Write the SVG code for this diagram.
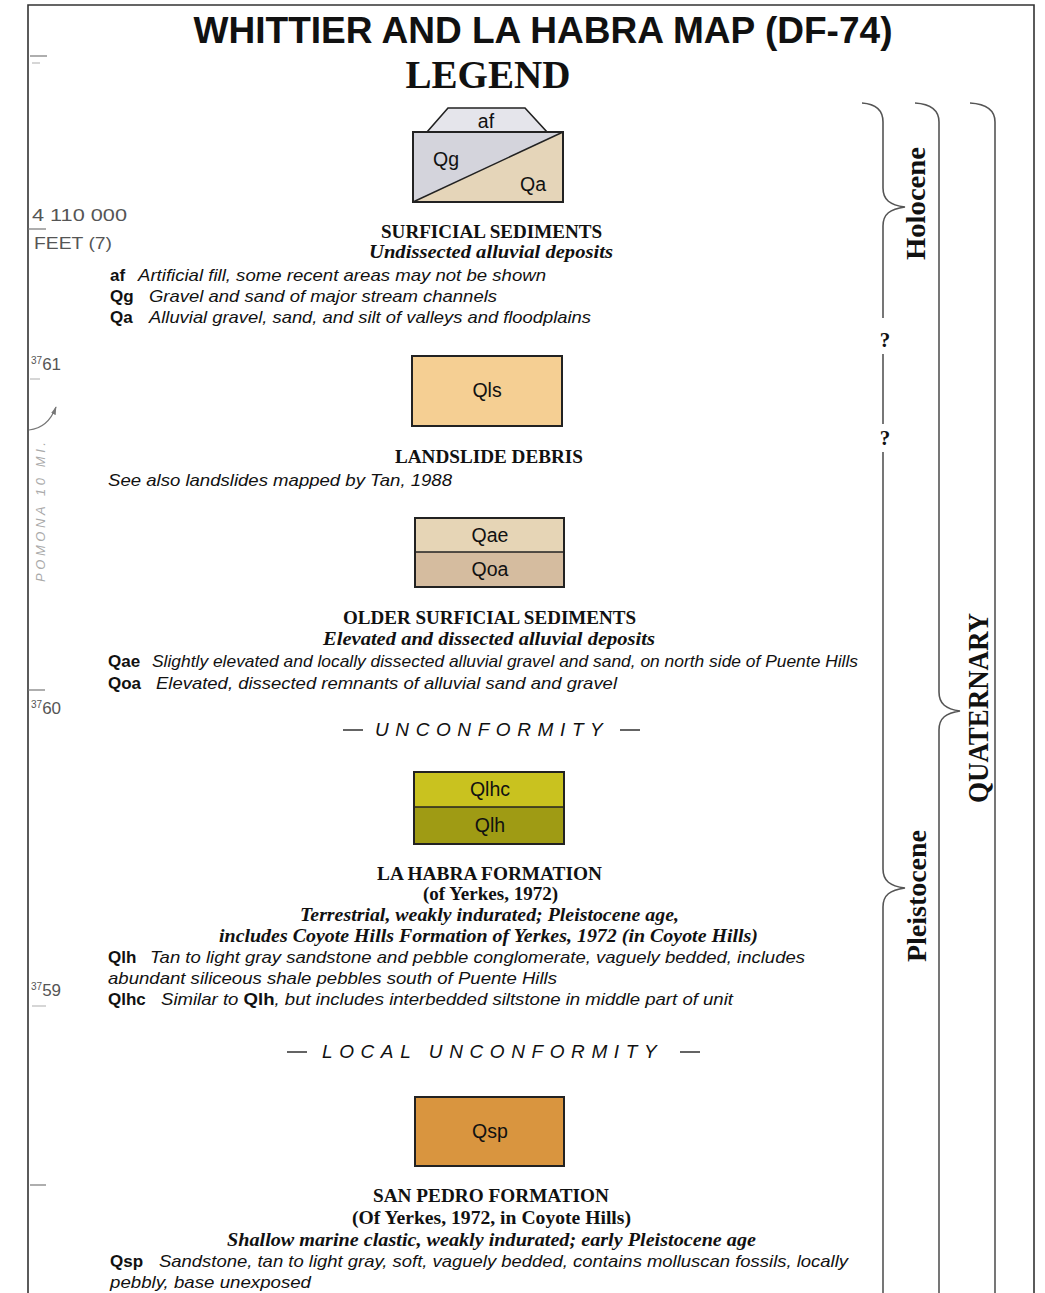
<svg xmlns="http://www.w3.org/2000/svg" width="1045" height="1293" viewBox="0 0 1045 1293">
<style>
.ttl{font-family:"Liberation Sans",Arial,sans-serif;font-weight:bold;fill:#111}
.leg{font-family:"Liberation Serif","Times New Roman",serif;font-weight:bold;fill:#111}
.h{font-family:"Liberation Serif","Times New Roman",serif;font-weight:bold;font-size:19px;fill:#111;text-anchor:middle}
.hi{font-family:"Liberation Serif","Times New Roman",serif;font-weight:bold;font-style:italic;font-size:19px;fill:#111;text-anchor:middle}
.c{font-family:"Liberation Sans",Arial,sans-serif;font-weight:bold;font-size:17px;fill:#111}
.d{font-family:"Liberation Sans",Arial,sans-serif;font-style:italic;font-size:17px;fill:#111}
.lbl{font-family:"Liberation Sans",Arial,sans-serif;font-size:19.5px;fill:#111;text-anchor:middle}
.unc{font-family:"Liberation Sans",Arial,sans-serif;font-style:italic;font-size:19px;fill:#111;letter-spacing:6.6px}
.dash{stroke:#222;stroke-width:1.4}
.box{stroke:#222;stroke-width:2}
.mg{font-family:"Liberation Sans",Arial,sans-serif;font-size:16px;fill:#555}
.ep{font-family:"Liberation Serif","Times New Roman",serif;font-weight:bold;fill:#111;text-anchor:middle}
.br{fill:none;stroke:#555;stroke-width:1.6}
.tick{stroke:#777;stroke-width:1.2}
</style>
<defs>
<marker id="ah" viewBox="0 0 10 10" refX="9" refY="5" markerWidth="7" markerHeight="7" orient="auto">
<path d="M0,2 L10,5 L0,8 Z" fill="#777"/>
</marker>
</defs>
<rect x="0" y="0" width="1045" height="1293" fill="#ffffff"/>
<g id="frame">
<path d="M28 1293 L28 5 L1034 5 L1034 1293" fill="none" stroke="#333" stroke-width="1.6"/>
</g>
<g id="margin">
<line class="tick" x1="30" y1="56" x2="47" y2="56"/>
<line class="tick" x1="32" y1="63" x2="40" y2="63" stroke-opacity="0.5"/>
<text class="mg" x="32" y="221" textLength="95" lengthAdjust="spacingAndGlyphs">4 110 000</text>
<line class="tick" x1="28" y1="229" x2="46" y2="229"/>
<text class="mg" x="34" y="249" textLength="78" lengthAdjust="spacingAndGlyphs">FEET (7)</text>
<text class="mg" x="31" y="370"><tspan font-size="10" dy="-6">37</tspan><tspan font-size="17" dy="6">61</tspan></text>
<line class="tick" x1="30" y1="379" x2="40" y2="379" stroke-opacity="0.5"/>
<path d="M29 430 Q48 428 56 407" fill="none" stroke="#777" stroke-width="1.2" marker-end="url(#ah)"/>
<text transform="translate(45,512) rotate(-90)" font-family="Liberation Sans,Arial,sans-serif" font-style="italic" font-size="13" fill="#aaa" text-anchor="middle" textLength="140" lengthAdjust="spacing">POMONA 10 MI.</text>
<line class="tick" x1="28" y1="690" x2="45" y2="690"/>
<text class="mg" x="31" y="714"><tspan font-size="10" dy="-6">37</tspan><tspan font-size="17" dy="6">60</tspan></text>
<text class="mg" x="31" y="996"><tspan font-size="10" dy="-6">37</tspan><tspan font-size="17" dy="6">59</tspan></text>
<line class="tick" x1="32" y1="1006" x2="46" y2="1006" stroke-opacity="0.5"/>
<line class="tick" x1="30" y1="1185" x2="46" y2="1185"/>
</g>
<g id="title">
<text class="ttl" x="543" y="43" font-size="37" text-anchor="middle" textLength="699" lengthAdjust="spacingAndGlyphs">WHITTIER AND LA HABRA MAP (DF-74)</text>
<text class="leg" x="488" y="88" font-size="39" text-anchor="middle" textLength="165" lengthAdjust="spacingAndGlyphs">LEGEND</text>
</g>
<g id="surficial">
<polygon points="427,132 448,108 525,108 547,132" fill="#e5e5eb" stroke="#222" stroke-width="1.6"/>
<rect x="413" y="132" width="150" height="70" fill="#d4d4dc"/>
<polygon points="413,202 563,132 563,202" fill="#e5d5b9"/>
<line x1="413" y1="202" x2="563" y2="132" stroke="#222" stroke-width="1.5"/>
<rect class="box" x="413" y="132" width="150" height="70" fill="none"/>
<text class="lbl" x="486" y="128">af</text>
<text class="lbl" x="446" y="166">Qg</text>
<text class="lbl" x="533" y="191">Qa</text>
<text class="h" x="491.5" y="238" textLength="221" lengthAdjust="spacingAndGlyphs">SURFICIAL SEDIMENTS</text>
<text class="hi" x="491" y="258" textLength="244" lengthAdjust="spacingAndGlyphs">Undissected alluvial deposits</text>
<text class="c" x="110" y="281">af</text>
<text class="d" x="138" y="281" textLength="408" lengthAdjust="spacingAndGlyphs">Artificial fill, some recent areas may not be shown</text>
<text class="c" x="110" y="302">Qg</text>
<text class="d" x="149" y="302" textLength="348" lengthAdjust="spacingAndGlyphs">Gravel and sand of major stream channels</text>
<text class="c" x="110" y="323">Qa</text>
<text class="d" x="149" y="323" textLength="442" lengthAdjust="spacingAndGlyphs">Alluvial gravel, sand, and silt of valleys and floodplains</text>
</g>
<g id="landslide">
<rect class="box" x="412" y="356" width="150" height="70" fill="#f5cf93"/>
<text class="lbl" x="487" y="397">Qls</text>
<text class="h" x="489" y="463" textLength="188" lengthAdjust="spacingAndGlyphs">LANDSLIDE DEBRIS</text>
<text class="d" x="108" y="486" textLength="344" lengthAdjust="spacingAndGlyphs">See also landslides mapped by Tan, 1988</text>
</g>
<g id="older">
<rect x="415" y="518" width="149" height="34" fill="#e6d5b6"/>
<rect x="415" y="552" width="149" height="35" fill="#d5bc9f"/>
<line x1="415" y1="552" x2="564" y2="552" stroke="#222" stroke-width="1.6"/>
<rect class="box" x="415" y="518" width="149" height="69" fill="none"/>
<text class="lbl" x="490" y="542">Qae</text>
<text class="lbl" x="490" y="576">Qoa</text>
<text class="h" x="489.5" y="624" textLength="293" lengthAdjust="spacingAndGlyphs">OLDER SURFICIAL SEDIMENTS</text>
<text class="hi" x="489" y="645" textLength="332" lengthAdjust="spacingAndGlyphs">Elevated and dissected alluvial deposits</text>
<text class="c" x="108" y="667">Qae</text>
<text class="d" x="152" y="667" textLength="706" lengthAdjust="spacingAndGlyphs">Slightly elevated and locally dissected alluvial gravel and sand, on north side of Puente Hills</text>
<text class="c" x="108" y="689">Qoa</text>
<text class="d" x="156" y="689" textLength="461" lengthAdjust="spacingAndGlyphs">Elevated, dissected remnants of alluvial sand and gravel</text>
</g>
<g id="unconformity">
<line class="dash" x1="343" y1="730" x2="363" y2="730"/>
<text class="unc" x="375" y="736">UNCONFORMITY</text>
<line class="dash" x1="620" y1="730" x2="640" y2="730"/>
</g>
<g id="lahabra">
<rect x="414" y="772" width="150" height="35" fill="#c9c21f"/>
<rect x="414" y="807" width="150" height="37" fill="#9f9b14"/>
<line x1="414" y1="807" x2="564" y2="807" stroke="#222" stroke-width="1.6"/>
<rect class="box" x="414" y="772" width="150" height="72" fill="none"/>
<text class="lbl" x="490" y="796">Qlhc</text>
<text class="lbl" x="490" y="832">Qlh</text>
<text class="h" x="489.5" y="880" textLength="225" lengthAdjust="spacingAndGlyphs">LA HABRA FORMATION</text>
<text class="h" x="490.5" y="900" textLength="135" lengthAdjust="spacingAndGlyphs">(of Yerkes, 1972)</text>
<text class="hi" x="489.5" y="921" textLength="379" lengthAdjust="spacingAndGlyphs">Terrestrial, weakly indurated; Pleistocene age,</text>
<text class="hi" x="488.5" y="942" textLength="539" lengthAdjust="spacingAndGlyphs">includes Coyote Hills Formation of Yerkes, 1972 (in Coyote Hills)</text>
<text class="c" x="108" y="963">Qlh</text>
<text class="d" x="150" y="963" textLength="655" lengthAdjust="spacingAndGlyphs">Tan to light gray sandstone and pebble conglomerate, vaguely bedded, includes</text>
<text class="d" x="108" y="984" textLength="449" lengthAdjust="spacingAndGlyphs">abundant siliceous shale pebbles south of Puente Hills</text>
<text class="c" x="108" y="1005">Qlhc</text>
<text class="d" x="161" y="1005" textLength="572" lengthAdjust="spacingAndGlyphs">Similar to <tspan font-weight="bold" font-style="normal">Qlh</tspan>, but includes interbedded siltstone in middle part of unit</text>
</g>
<g id="local-unconformity">
<line class="dash" x1="287" y1="1052" x2="307" y2="1052"/>
<text class="unc" x="322" y="1058">LOCAL UNCONFORMITY</text>
<line class="dash" x1="680" y1="1052" x2="700" y2="1052"/>
</g>
<g id="sanpedro">
<rect class="box" x="415" y="1097" width="149" height="69" fill="#d9953f"/>
<text class="lbl" x="490" y="1138">Qsp</text>
<text class="h" x="491" y="1202" textLength="236" lengthAdjust="spacingAndGlyphs">SAN PEDRO FORMATION</text>
<text class="h" x="491.5" y="1224" textLength="279" lengthAdjust="spacingAndGlyphs">(Of Yerkes, 1972, in Coyote Hills)</text>
<text class="hi" x="491.5" y="1246" textLength="529" lengthAdjust="spacingAndGlyphs">Shallow marine clastic, weakly indurated; early Pleistocene age</text>
<text class="c" x="110" y="1267">Qsp</text>
<text class="d" x="159" y="1267" textLength="689" lengthAdjust="spacingAndGlyphs">Sandstone, tan to light gray, soft, vaguely bedded, contains molluscan fossils, locally</text>
<text class="d" x="110" y="1288" textLength="201" lengthAdjust="spacingAndGlyphs">pebbly, base unexposed</text>
</g>
<g id="brackets">
<path class="br" d="M862 103 C876 104 883 110 883 122 L883 188 C883 200 890 205 905 207 C890 209 883 214 883 226 L883 318"/>
<path class="br" d="M883 354 L883 424"/>
<path class="br" d="M883 452 L883 869 C883 881 890 886 905 888 C890 890 883 895 883 907 L883 1293"/>
<path class="br" d="M915 103 C930 104 939 110 939 122 L939 692 C939 704 946 709 960 711 C946 713 939 718 939 730 L939 1293"/>
<path class="br" d="M970 103 C986 104 995 110 995 122 L995 1293"/>
<text class="ep" x="885" y="347" font-size="21">?</text>
<text class="ep" x="885" y="445" font-size="21">?</text>
</g>
<g id="epochs">
<text class="ep" transform="translate(925,203.5) rotate(-90)" font-size="28" textLength="113" lengthAdjust="spacingAndGlyphs">Holocene</text>
<text class="ep" transform="translate(926,896) rotate(-90)" font-size="28" textLength="132" lengthAdjust="spacingAndGlyphs">Pleistocene</text>
<text class="ep" transform="translate(988,708) rotate(-90)" font-size="29" textLength="190" lengthAdjust="spacingAndGlyphs">QUATERNARY</text>
</g>
</svg>
